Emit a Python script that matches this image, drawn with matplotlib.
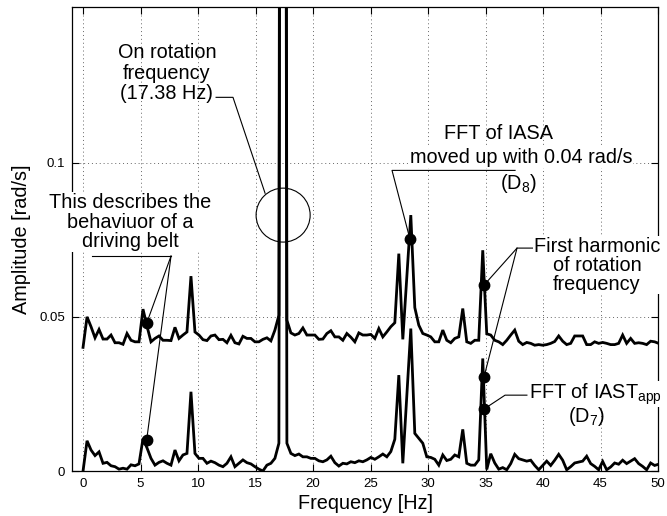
import numpy as np
import matplotlib
matplotlib.use("Agg")
import matplotlib.pyplot as plt
from matplotlib.patches import Ellipse

plt.rcParams['font.family'] = ['Liberation Sans', 'DejaVu Sans']
plt.rcParams['mathtext.default'] = 'regular'

# ---------------- data ----------------
rot_freq = 17.38                      # Hz, rotation frequency (bin 50)
df = rot_freq / 50.0                  # frequency resolution
n_bins = 145

# FFT of IAST_app (D7)
iast_app = [
    0.0000, 0.0098, 0.0068, 0.0050, 0.0062, 0.0025, 0.0028, 0.0017, 0.0014, 0.0006,
    0.0009, 0.0006, 0.0020, 0.0017, 0.0023, 0.0105, 0.0075, 0.0041, 0.0019, 0.0028,
    0.0033, 0.0025, 0.0019, 0.0068, 0.0033, 0.0052, 0.0057, 0.0257, 0.0057, 0.0041,
    0.0041, 0.0025, 0.0032, 0.0027, 0.0019, 0.0014, 0.0025, 0.0046, 0.0014, 0.0025,
    0.0036, 0.0027, 0.0023, 0.0014, 0.0006, 0.0000, 0.0019, 0.0025, 0.0041, 0.0090,
    0.9000, 0.0090, 0.0057, 0.0050, 0.0055, 0.0046, 0.0046, 0.0041, 0.0041, 0.0033,
    0.0030, 0.0036, 0.0048, 0.0027, 0.0016, 0.0025, 0.0023, 0.0030, 0.0027, 0.0033,
    0.0030, 0.0036, 0.0044, 0.0038, 0.0046, 0.0055, 0.0046, 0.0063, 0.0103, 0.0311,
    0.0025, 0.0244, 0.0462, 0.0122, 0.0106, 0.0090, 0.0046, 0.0044, 0.0038, 0.0019,
    0.0052, 0.0034, 0.0038, 0.0052, 0.0046, 0.0135, 0.0025, 0.0019, 0.0019, 0.0036,
    0.0365, 0.0005, 0.0056, 0.0026, 0.0006, 0.0011, 0.0004, 0.0024, 0.0054, 0.0040,
    0.0036, 0.0032, 0.0035, 0.0018, 0.0004, 0.0018, 0.0032, 0.0018, 0.0035, 0.0054,
    0.0035, 0.0004, 0.0014, 0.0026, 0.0029, 0.0032, 0.0048, 0.0024, 0.0015, 0.0004,
    0.0031, 0.0004, 0.0013, 0.0026, 0.0022, 0.0035, 0.0024, 0.0032, 0.0040, 0.0024,
    0.0015, 0.0004, 0.0026, 0.0018, 0.0022,
]

# FFT of IASA (D8), already moved up with 0.04 rad/s
iasa_shifted = [
    0.0401, 0.0500, 0.0468, 0.0432, 0.0459, 0.0428, 0.0428, 0.0441, 0.0416, 0.0416,
    0.0411, 0.0446, 0.0424, 0.0419, 0.0419, 0.0525, 0.0470, 0.0419, 0.0430, 0.0438,
    0.0424, 0.0424, 0.0423, 0.0466, 0.0430, 0.0441, 0.0451, 0.0632, 0.0451, 0.0441,
    0.0426, 0.0423, 0.0438, 0.0441, 0.0426, 0.0427, 0.0416, 0.0440, 0.0416, 0.0412,
    0.0437, 0.0430, 0.0430, 0.0419, 0.0419, 0.0427, 0.0432, 0.0422, 0.0457, 0.0505,
    0.9400, 0.0489, 0.0448, 0.0441, 0.0446, 0.0464, 0.0441, 0.0441, 0.0441, 0.0427,
    0.0428, 0.0446, 0.0455, 0.0435, 0.0435, 0.0424, 0.0446, 0.0434, 0.0419, 0.0448,
    0.0441, 0.0441, 0.0443, 0.0430, 0.0462, 0.0435, 0.0451, 0.0468, 0.0481, 0.0705,
    0.0427, 0.0629, 0.0830, 0.0530, 0.0473, 0.0446, 0.0441, 0.0435, 0.0419, 0.0419,
    0.0457, 0.0424, 0.0416, 0.0430, 0.0435, 0.0527, 0.0419, 0.0414, 0.0424, 0.0424,
    0.0716, 0.0445, 0.0441, 0.0424, 0.0419, 0.0410, 0.0424, 0.0441, 0.0457, 0.0421,
    0.0410, 0.0417, 0.0414, 0.0408, 0.0410, 0.0408, 0.0410, 0.0414, 0.0420, 0.0438,
    0.0421, 0.0410, 0.0414, 0.0438, 0.0438, 0.0438, 0.0410, 0.0410, 0.0419, 0.0414,
    0.0417, 0.0414, 0.0410, 0.0410, 0.0414, 0.0441, 0.0414, 0.0430, 0.0414, 0.0416,
    0.0414, 0.0410, 0.0421, 0.0419, 0.0414,
]

x_ticks = [0, 5, 10, 15, 20, 25, 30, 35, 40, 45, 50]
y_ticks = [0, 0.05, 0.1]
y_tick_labels = ['0', '0.05', '0.1']

# annotation markers (frequency, amplitude)
dot_freqs = [5.53, 5.53, 28.43, 34.87, 34.87, 34.87]
dot_amps = [0.0479, 0.0100, 0.0752, 0.0603, 0.0305, 0.0201]

freq = np.arange(n_bins) * df

# ---------------- figure ----------------
fig = plt.figure(figsize=(6.67, 5.16), dpi=100)
ax = fig.add_axes([72 / 667, 45 / 516, 586 / 667, 464 / 516])

ax.set_xlim(-0.96, 50)
ax.set_ylim(0, 0.1505)

ax.grid(True, color='#666666', linestyle=(0, (1, 3)), linewidth=0.7)
ax.set_xticks(x_ticks)
ax.set_yticks(y_ticks)
ax.set_yticklabels(y_tick_labels)
ax.tick_params(axis='both', direction='in', top=True, right=True,
               length=5, width=0.8, labelsize=9.5, pad=5, colors='black')
for s in ax.spines.values():
    s.set_linewidth(0.9)

lw = 2.0
ax.plot(freq, iast_app, color='black', linewidth=lw, solid_joinstyle='miter', zorder=4)
ax.plot(freq, iasa_shifted, color='black', linewidth=lw, solid_joinstyle='miter', zorder=4)

ax.plot(dot_freqs, dot_amps, 'o', color='black', markersize=7.5, zorder=6)

fs = 14.3
bb = dict(facecolor='white', edgecolor='none', pad=0.5)
thin = dict(color='black', linewidth=0.8, zorder=5)

# rotation frequency note
ax.text(7.3, 0.1290, 'On rotation\nfrequency\n(17.38 Hz)', ha='center', va='center',
        fontsize=fs, linespacing=1.1, zorder=7)
ax.plot([11.57, 13.04, 15.83], [0.1212, 0.1212, 0.0901], **thin)
ax.add_patch(Ellipse((17.4, 0.083), width=4.7, height=0.0175, fill=False,
                     edgecolor='black', linewidth=0.8, zorder=5))

# driving belt note
ax.text(4.09, 0.0807, 'This describes the\nbehaviuor of a\ndriving belt', ha='center',
        va='center', fontsize=fs, linespacing=1.05, bbox=bb, zorder=7, clip_on=False)
ax.plot([0.78, 7.65], [0.0697, 0.0697], **thin)
ax.plot([7.65, 5.53], [0.0697, 0.0479], **thin)
ax.plot([7.65, 5.53], [0.0697, 0.0100], **thin)

# IASA note
ax.text(36.17, 0.1095, 'FFT of IASA', ha='center', va='center', fontsize=fs, zorder=7)
ax.text(38.09, 0.1017, 'moved up with 0.04 rad/s', ha='center', va='center',
        fontsize=fs, bbox=bb, zorder=7)
ax.text(37.83, 0.0933, '(D$_8$)', ha='center', va='center', fontsize=fs, zorder=7)
ax.plot([37.57, 26.87, 28.43], [0.0975, 0.0975, 0.0752], **thin)

# first harmonic note
ax.text(44.7, 0.0668, 'First harmonic\nof rotation\nfrequency', ha='center', va='center',
        fontsize=fs, linespacing=1.0, bbox=bb, zorder=7, clip_on=False)
ax.plot([39.30, 37.74, 34.87], [0.0723, 0.0723, 0.0603], **thin)
ax.plot([37.74, 34.87], [0.0723, 0.0305], **thin)

# IAST_app note
ax.text(38.75, 0.0250, 'FFT of IAST$_{app}$', ha='left', va='center', fontsize=fs,
        bbox=bb, zorder=7, clip_on=False)
ax.text(43.8, 0.0178, '(D$_7$)', ha='center', va='center', fontsize=fs, zorder=7)
ax.plot([38.6, 36.7, 34.87], [0.0246, 0.0246, 0.0201], **thin)

ax.set_xlabel('Frequency [Hz]', fontsize=fs, labelpad=3)
ax.set_ylabel('Amplitude [rad/s]', fontsize=fs, labelpad=6)

fig.savefig('out.png', dpi=100)
